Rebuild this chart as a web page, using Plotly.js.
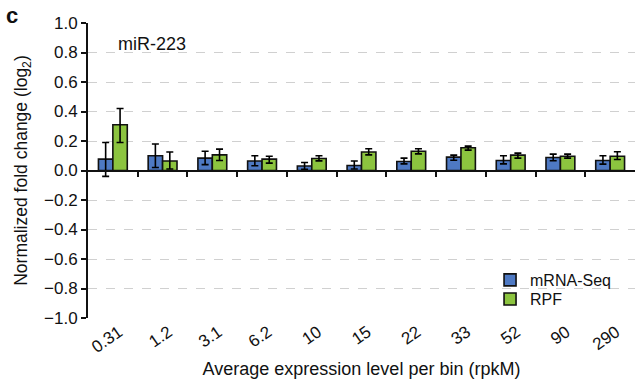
<!DOCTYPE html>
<html>
<head>
<meta charset="utf-8">
<script src="https://cdn.plot.ly/plotly-3.0.1.min.js"></script>
<style>html,body{margin:0;padding:0;background:#fff}#chart{width:636px;height:383px}</style>
</head>
<body>
<div id="chart"></div>
<script>
var categories = ["0.31","1.2","3.1","6.2","10","15","22","33","52","90","290"];
var mrnaValues = [0.077,0.10,0.084,0.064,0.030,0.034,0.061,0.091,0.068,0.088,0.068];
var mrnaErrPlus = [0.113,0.08,0.046,0.036,0.024,0.030,0.023,0.013,0.032,0.023,0.032];
var mrnaErrMinus = [0.117,0.08,0.044,0.032,0.022,0.024,0.016,0.021,0.023,0.022,0.025];
var rpfValues = [0.31,0.064,0.106,0.077,0.081,0.125,0.131,0.154,0.104,0.097,0.097];
var rpfErrPlus = [0.11,0.061,0.039,0.020,0.019,0.022,0.016,0.011,0.014,0.014,0.030];
var rpfErrMinus = [0.12,0.054,0.038,0.027,0.016,0.019,0.018,0.016,0.020,0.013,0.022];

var idx = categories.map(function(_, i){ return i; });
var boundaries = idx.slice(0, -1).map(function(i){ return i + 0.5; });

var errStyle = {color:'#000', thickness:1.6, width:3.5};
var traces = [
  {type:'bar', name:'mRNA-Seq', x:idx, y:mrnaValues, legend:'legend',
   marker:{color:'#4e79c3', line:{color:'#111', width:1.6}},
   error_y:Object.assign({type:'data', symmetric:false, array:mrnaErrPlus, arrayminus:mrnaErrMinus}, errStyle)},
  {type:'bar', name:'RPF', x:idx, y:rpfValues, legend:'legend2',
   marker:{color:'#8cc43f', line:{color:'#111', width:1.6}},
   error_y:Object.assign({type:'data', symmetric:false, array:rpfErrPlus, arrayminus:rpfErrMinus}, errStyle)},
  {type:'scatter', mode:'none', x:[idx[0]], y:[0], xaxis:'x2', showlegend:false, hoverinfo:'skip'}
];

var font = {family:'"Liberation Sans", Arial, sans-serif', color:'#111'};
var legendBase = {xanchor:'left', yanchor:'middle', bgcolor:'rgba(0,0,0,0)',
                  font:Object.assign({size:16}, font), itemwidth:30};
var layout = {
  width:636, height:383,
  margin:{l:88, r:1, t:23, b:65},
  paper_bgcolor:'#fff', plot_bgcolor:'#fff',
  font:Object.assign({size:17}, font),
  barmode:'group', bargap:0.42, bargroupgap:0,
  showlegend:true,
  legend:Object.assign({x:0.735, y:0.129}, legendBase),
  legend2:Object.assign({x:0.735, y:0.064}, legendBase),
  xaxis:{range:[-0.5, 10.5], tickmode:'array', tickvals:idx, ticktext:categories,
         tickangle:-35, showline:false, ticks:'', showgrid:false, zeroline:false,
         ticklabelshift:6,
         tickfont:Object.assign({size:17}, font),
         title:{text:'Average expression level per bin (rpkM)', font:Object.assign({size:18}, font), standoff:6}},
  xaxis2:{overlaying:'x', anchor:'free', position:0.5, range:[-0.5, 10.5],
          tickmode:'array', tickvals:boundaries, showticklabels:false,
          showline:true, linecolor:'#111', linewidth:2, ticks:'outside', ticklen:5, tickwidth:2, tickcolor:'#111',
          showgrid:false, zeroline:false},
  yaxis:{range:[-1, 1], tickmode:'array', tickvals:[-1,-0.8,-0.6,-0.4,-0.2,0,0.2,0.4,0.6,0.8,1],
         ticktext:['\u22121.0','\u22120.8','\u22120.6','\u22120.4','\u22120.2','0.0','0.2','0.4','0.6','0.8','1.0'],
         showline:true, linecolor:'#111', linewidth:2, ticks:'outside', ticklen:5, tickwidth:2, tickcolor:'#111',
         showgrid:true, gridcolor:'#d0d0d0', griddash:'dash', gridwidth:1, zeroline:false,
         tickfont:Object.assign({size:17}, font),
         title:{text:'Normalized fold change (log<sub>2</sub>)', font:Object.assign({size:17.5}, font), standoff:12}},
  annotations:[
    {text:'miR-223', xref:'paper', yref:'paper', x:0.052, y:0.93, xanchor:'left', yanchor:'middle', showarrow:false,
     font:Object.assign({size:18}, font)},
    {text:'<b>c</b>', xref:'paper', yref:'paper', x:-0.139, y:1.027, xanchor:'center', yanchor:'middle', showarrow:false,
     font:Object.assign({size:22}, font)}
  ]
};
Plotly.newPlot('chart', traces, layout, {displayModeBar:false, staticPlot:true});
</script>
</body>
</html>
